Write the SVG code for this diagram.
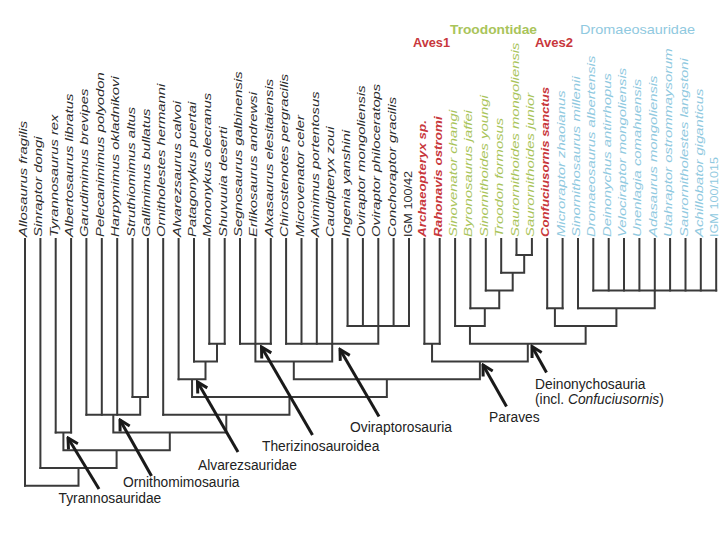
<svg xmlns="http://www.w3.org/2000/svg" width="720" height="540" viewBox="0 0 720 540">
<defs>
<style>
.tx{font-family:"Liberation Sans",Arial,sans-serif;font-size:11px;font-style:italic;fill:#2b2b2b}
.up{font-style:normal}
.red{fill:#c8373c;font-weight:bold}
.grn{fill:#a9c45a}
.blu{fill:#90c9e0}
.lab{font-family:"Liberation Sans",Arial,sans-serif;font-size:13.8px;fill:#222}
.clade{font-family:"Liberation Sans",Arial,sans-serif;font-size:13px}
.tree{fill:none;stroke:#3a3a3a;stroke-width:2;stroke-linecap:square}
.arr{fill:none;stroke:#1a1a1a;stroke-width:3;marker-end:url(#ah)}
</style>
<marker id="ah" markerUnits="userSpaceOnUse" viewBox="-12 -8 14 16" refX="0" refY="0" markerWidth="14" markerHeight="16" orient="auto">
<path d="M-10,-5.5 L0,0 L-10,5.5" fill="none" stroke="#1a1a1a" stroke-width="3"/>
</marker>
</defs>
<rect width="720" height="540" fill="#fff"/>

<g id="connectors">
<path class="tree" d="M25 239V485.8 M40.4 239V468 M55.7 239V432.5 M71.1 239V432.5 M86.4 239V414.8 M101.8 239V414.8 M117.2 239V414.8 M132.5 239V397 M147.9 239V397 M163.2 239V414.8 M178.6 239V379.3 M194 239V361.5 M209.3 239V343.8 M224.7 239V343.8 M240 239V343.8 M255.4 239V343.8 M270.8 239V343.8 M286.1 239V343.8 M301.5 239V343.8 M316.8 239V343.8 M332.2 239V343.8 M347.6 239V326 M362.9 239V326 M378.3 239V326 M393.6 239V326 M409 239V326 M424.4 239V343.8 M439.7 239V343.8 M455.1 239V326 M470.4 239V308.3 M485.8 239V290.5 M501.2 239V272.8 M516.5 239V255 M531.9 239V255 M547.2 239V308.3 M562.6 239V308.3 M578 239V308.3 M593.3 239V290.5 M608.7 239V290.5 M624 239V290.5 M639.4 239V290.5 M654.8 239V290.5 M670.1 239V290.5 M685.5 239V290.5 M700.8 239V290.5 M716.2 239V290.5"/>
<path class="tree" d="M55.7 432.5H71.1 M63.4 432.5V450.3
M132.5 397H147.9 M140.2 397V414.8
M86.4 414.8H140.2 M113.3 414.8V432.5
M209.3 343.8H224.7 M217 343.8V361.5
M194 361.5H217 M205.5 361.5V379.3
M178.6 379.3H205.5 M192.05 379.3V397
M240 343.8H270.8 M255.4 343.8V361.5
M347.6 326H409 M378.3 326V343.8
M286.1 343.8H378.3 M332.2 343.8V361.5
M255.4 361.5H332.2 M293.8 361.5V379.3
M424.4 343.8H439.7 M432.05 343.8V361.5
M516.5 255H531.9 M524.2 255V272.8
M501.2 272.8H524.2 M512.7 272.8V290.5
M485.8 290.5H512.7 M499.25 290.5V308.3
M470.4 308.3H499.25 M484.8 308.3V326
M455.1 326H484.8 M469.95 326V343.8
M593.3 290.5H716.2 M654.75 290.5V308.3
M578 308.3H654.75 M616.4 308.3V326
M547.2 308.3H562.6 M554.9 308.3V326
M554.9 326H616.4 M585.65 326V343.8
M469.95 343.8H585.65 M527.8 343.8V361.5
M432.05 361.5H527.8 M479.9 361.5V379.3
M293.8 379.3H479.9 M386.85 379.3V397
M192.05 397H386.85 M289.45 397V414.8
M163.2 414.8H289.45 M226.3 414.8V432.5
M113.3 432.5H226.3 M169.8 432.5V450.3
M63.4 450.3H169.8 M116.6 450.3V468
M40.4 468H116.6 M78.5 468V485.8
M25 485.8H78.5"/>
<line class="arr" x1="99" y1="489" x2="68" y2="438"/>
<line class="arr" x1="151.5" y1="476" x2="120" y2="420"/>
<line class="arr" x1="238" y1="452" x2="197.5" y2="382"/>
<line class="arr" x1="312.5" y1="435" x2="261.5" y2="347"/>
<line class="arr" x1="379" y1="416.5" x2="340" y2="349.5"/>
<line class="arr" x1="506.5" y1="406.5" x2="483" y2="365"/>
<line class="arr" x1="546.5" y1="372.5" x2="532" y2="346.5"/>
</g>

<g id="taxa">
<g id="t01"><text class="tx" transform="translate(27,237) rotate(-90) scale(1.35,1)">Allosaurus fragilis</text></g>
<g id="t02"><text class="tx" transform="translate(42.4,237) rotate(-90) scale(1.35,1)">Sinraptor dongi</text></g>
<g id="t03"><text class="tx" transform="translate(57.7,237) rotate(-90) scale(1.35,1)">Tyrannosaurus rex</text></g>
<g id="t04"><text class="tx" transform="translate(73.1,237) rotate(-90) scale(1.35,1)">Albertosaurus libratus</text></g>
<g id="t05"><text class="tx" transform="translate(88.4,237) rotate(-90) scale(1.35,1)">Garudimimus brevipes</text></g>
<g id="t06"><text class="tx" transform="translate(103.8,237) rotate(-90) scale(1.35,1)">Pelecanimimus polyodon</text></g>
<g id="t07"><text class="tx" transform="translate(119.2,237) rotate(-90) scale(1.35,1)">Harpymimus okladnikovi</text></g>
<g id="t08"><text class="tx" transform="translate(134.5,237) rotate(-90) scale(1.35,1)">Struthiomimus altus</text></g>
<g id="t09"><text class="tx" transform="translate(149.9,237) rotate(-90) scale(1.35,1)">Gallimimus bullatus</text></g>
<g id="t10"><text class="tx" transform="translate(165.2,237) rotate(-90) scale(1.35,1)">Ornitholestes hermanni</text></g>
<g id="t11"><text class="tx" transform="translate(180.6,237) rotate(-90) scale(1.35,1)">Alvarezsaurus calvoi</text></g>
<g id="t12"><text class="tx" transform="translate(196,237) rotate(-90) scale(1.35,1)">Patagonykus puertai</text></g>
<g id="t13"><text class="tx" transform="translate(211.3,237) rotate(-90) scale(1.35,1)">Mononykus olecranus</text></g>
<g id="t14"><text class="tx" transform="translate(226.7,237) rotate(-90) scale(1.35,1)">Shuvuuia deserti</text></g>
<g id="t15"><text class="tx" transform="translate(242,237) rotate(-90) scale(1.35,1)">Segnosaurus galbinensis</text></g>
<g id="t16"><text class="tx" transform="translate(257.4,237) rotate(-90) scale(1.35,1)">Erlikosaurus andrewsi</text></g>
<g id="t17"><text class="tx" transform="translate(272.8,237) rotate(-90) scale(1.35,1)">Alxasaurus elesitaiensis</text></g>
<g id="t18"><text class="tx" transform="translate(288.1,237) rotate(-90) scale(1.35,1)">Chirostenotes pergracilis</text></g>
<g id="t19"><text class="tx" transform="translate(303.5,237) rotate(-90) scale(1.35,1)">Microvenator celer</text></g>
<g id="t20"><text class="tx" transform="translate(318.8,237) rotate(-90) scale(1.35,1)">Avimimus portentosus</text></g>
<g id="t21"><text class="tx" transform="translate(334.2,237) rotate(-90) scale(1.35,1)">Caudipteryx zoui</text></g>
<g id="t22"><text class="tx" transform="translate(349.6,237) rotate(-90) scale(1.35,1)">Ingenia yanshini</text></g>
<g id="t23"><text class="tx" transform="translate(364.9,237) rotate(-90) scale(1.35,1)">Oviraptor mongoliensis</text></g>
<g id="t24"><text class="tx" transform="translate(380.3,237) rotate(-90) scale(1.35,1)">Oviraptor philoceratops</text></g>
<g id="t25"><text class="tx" transform="translate(395.6,237) rotate(-90) scale(1.35,1)">Conchoraptor gracilis</text></g>
<g id="t26"><text class="tx up" transform="translate(411.5,237) rotate(-90) scale(1.15,1)">IGM 100/42</text></g>
<g id="t27"><text class="tx red" transform="translate(426.4,237) rotate(-90) scale(1.22,1)">Archaeopteryx sp.</text></g>
<g id="t28"><text class="tx red" transform="translate(441.7,237) rotate(-90) scale(1.22,1)">Rahonavis ostromi</text></g>
<g id="t29"><text class="tx grn" transform="translate(457.1,237) rotate(-90) scale(1.35,1)">Sinovenator changi</text></g>
<g id="t30"><text class="tx grn" transform="translate(472.4,237) rotate(-90) scale(1.35,1)">Byronosaurus jaffei</text></g>
<g id="t31"><text class="tx grn" transform="translate(487.8,237) rotate(-90) scale(1.35,1)">Sinornithoides youngi</text></g>
<g id="t32"><text class="tx grn" transform="translate(503.2,237) rotate(-90) scale(1.35,1)">Troodon formosus</text></g>
<g id="t33"><text class="tx grn" transform="translate(518.5,237) rotate(-90) scale(1.35,1)">Saurornithoides mongoliensis</text></g>
<g id="t34"><text class="tx grn" transform="translate(533.9,237) rotate(-90) scale(1.35,1)">Saurornithoides junior</text></g>
<g id="t35"><text class="tx red" transform="translate(549.2,237) rotate(-90) scale(1.2,1)">Confuciusornis sanctus</text></g>
<g id="t36"><text class="tx blu" transform="translate(564.6,237) rotate(-90) scale(1.35,1)">Microraptor zhaoianus</text></g>
<g id="t37"><text class="tx blu" transform="translate(580,237) rotate(-90) scale(1.35,1)">Sinornithosaurus millenii</text></g>
<g id="t38"><text class="tx blu" transform="translate(595.3,237) rotate(-90) scale(1.35,1)">Dromaeosaurus albertensis</text></g>
<g id="t39"><text class="tx blu" transform="translate(610.7,237) rotate(-90) scale(1.35,1)">Deinonychus antirrhopus</text></g>
<g id="t40"><text class="tx blu" transform="translate(626,237) rotate(-90) scale(1.35,1)">Velociraptor mongoliensis</text></g>
<g id="t41"><text class="tx blu" transform="translate(641.4,237) rotate(-90) scale(1.35,1)">Unenlagia comahuensis</text></g>
<g id="t42"><text class="tx blu" transform="translate(656.8,237) rotate(-90) scale(1.35,1)">Adasaurus mongoliensis</text></g>
<g id="t43"><text class="tx blu" transform="translate(672.1,237) rotate(-90) scale(1.35,1)">Utahraptor ostrommaysorum</text></g>
<g id="t44"><text class="tx blu" transform="translate(687.5,237) rotate(-90) scale(1.35,1)">Saurornitholestes langstoni</text></g>
<g id="t45"><text class="tx blu" transform="translate(702.8,237) rotate(-90) scale(1.35,1)">Achillobator giganticus</text></g>
<g id="t46"><text class="tx blu up" transform="translate(718.2,237) rotate(-90) scale(1.15,1)">IGM 100/1015</text></g>
</g>

<g id="clades-top">
<g id="troodontidae"><text class="clade" x="450" y="34" fill="#a9c45a" font-weight="bold" textLength="87" lengthAdjust="spacingAndGlyphs">Troodontidae</text></g>
<g id="dromaeosauridae"><text class="clade" x="580" y="34" fill="#90c9e0" textLength="115" lengthAdjust="spacingAndGlyphs">Dromaeosauridae</text></g>
<g id="aves1"><text class="clade" x="413" y="47" fill="#c8373c" font-weight="bold" textLength="37" lengthAdjust="spacingAndGlyphs">Aves1</text></g>
<g id="aves2"><text class="clade" x="535" y="47" fill="#c8373c" font-weight="bold" textLength="38" lengthAdjust="spacingAndGlyphs">Aves2</text></g>
</g>

<g id="clades-bottom">
<g id="tyrannosauridae"><text class="lab" x="58.5" y="503">Tyrannosauridae</text></g>
<g id="ornithomimosauria"><text class="lab" x="123" y="487">Ornithomimosauria</text></g>
<g id="alvarezsauridae"><text class="lab" x="198" y="470">Alvarezsauridae</text></g>
<g id="therizinosauroidea"><text class="lab" x="262" y="451">Therizinosauroidea</text></g>
<g id="oviraptorosauria"><text class="lab" x="350" y="432">Oviraptorosauria</text></g>
<g id="paraves"><text class="lab" x="489" y="422">Paraves</text></g>
<g id="deinonychosauria"><text class="lab" x="535" y="389">Deinonychosauria</text><text class="lab" x="535" y="404">(incl. <tspan font-style="italic">Confuciusornis</tspan>)</text></g>
</g>
</svg>
